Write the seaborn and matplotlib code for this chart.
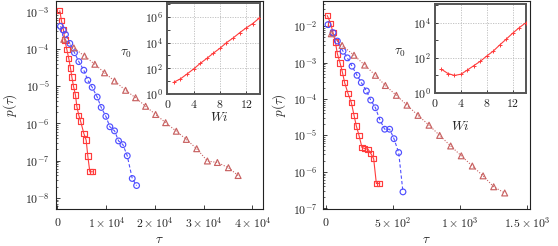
import numpy as np
import pandas as pd
import matplotlib
matplotlib.use("Agg")
import matplotlib.pyplot as plt
import matplotlib.ticker as mticker
import seaborn as sns

# ---------------- data ----------------
# Left panel: tau values and log10 p(tau)
L_red_tau = [480, 820, 1230, 1510, 1920, 2330, 2670, 2950, 3290, 3700, 3970, 4380, 4730, 5410, 5890, 6230, 6640, 7190]
L_red_logp = [-2.97, -3.24, -3.48, -3.76, -4.01, -4.26, -4.51, -4.75, -5.00, -5.24, -5.54, -5.78, -5.93, -6.27, -6.45, -6.88, -7.30, -7.30]
L_blue_tau = [616, 1164, 1644, 2534, 3493, 4384, 5411, 6233, 7123, 8151, 8973, 9932, 10753, 11712, 12534, 13425, 14315, 15342, 16233]
L_blue_logp = [-3.39, -3.49, -3.61, -3.85, -4.10, -4.34, -4.57, -4.84, -5.03, -5.29, -5.57, -5.81, -6.09, -6.20, -6.47, -6.57, -6.87, -7.48, -7.67]
L_brown_tau = [1301, 3356, 5548, 7671, 9658, 11712, 13973, 16027, 18082, 20137, 22192, 24384, 26438, 28562, 30753, 32808, 35068, 37055]
L_brown_logp = [-3.74, -3.97, -4.19, -4.41, -4.64, -4.86, -5.11, -5.31, -5.54, -5.76, -5.98, -6.21, -6.43, -6.68, -7.01, -7.05, -7.19, -7.40]

# Right panel
R_red_tau = [12, 37, 55, 72, 87, 107, 124, 141, 166, 191, 211, 228, 248, 270, 290, 315, 335, 357, 377, 402]
R_red_logp = [-1.71, -1.93, -2.18, -2.44, -2.76, -3.01, -3.26, -3.55, -3.85, -4.10, -4.45, -4.74, -5.00, -5.33, -5.36, -5.38, -5.49, -5.64, -6.32, -6.32]
R_blue_tau = [17, 55, 87, 129, 161, 196, 233, 265, 303, 335, 370, 404, 439, 476, 508, 543, 575]
R_blue_logp = [-1.96, -2.18, -2.41, -2.69, -2.87, -3.10, -3.35, -3.55, -3.78, -4.03, -4.24, -4.58, -4.83, -4.83, -5.09, -5.47, -6.55]
R_brown_tau = [42, 122, 211, 290, 370, 444, 526, 605, 687, 769, 848, 930, 1009, 1091, 1171, 1250, 1332]
R_brown_logp = [-2.21, -2.53, -2.80, -3.07, -3.35, -3.63, -3.90, -4.17, -4.45, -4.72, -5.00, -5.29, -5.56, -5.84, -6.11, -6.41, -6.58]

# Insets: tau0 vs Wi
Wi = [1, 2, 3, 4, 5, 6, 7, 8, 9, 10, 11, 12, 13, 14]
L_tau0_log = [0.92, 1.18, 1.56, 1.95, 2.38, 2.77, 3.18, 3.56, 4.00, 4.36, 4.77, 5.15, 5.49, 5.92]
R_tau0_log = [1.35, 1.11, 1.00, 1.07, 1.31, 1.56, 1.81, 2.11, 2.39, 2.74, 3.07, 3.41, 3.72, 4.00]

# tick labels
L_xticks = [0, 1e4, 2e4, 3e4, 4e4]
L_xticklabels = [r"$0$", r"$1\times10^{4}$", r"$2\times10^{4}$", r"$3\times10^{4}$", r"$4\times10^{4}$"]
L_yticks = [1e-8, 1e-7, 1e-6, 1e-5, 1e-4, 1e-3]
L_yticklabels = [r"$10^{-8}$", r"$10^{-7}$", r"$10^{-6}$", r"$10^{-5}$", r"$10^{-4}$", r"$10^{-3}$"]
R_xticks = [0, 5e2, 1e3, 1.5e3]
R_xticklabels = [r"$0$", r"$5\times10^{2}$", r"$1\times10^{3}$", r"$1.5\times10^{3}$"]
R_yticks = [1e-7, 1e-6, 1e-5, 1e-4, 1e-3, 1e-2]
R_yticklabels = [r"$10^{-7}$", r"$10^{-6}$", r"$10^{-5}$", r"$10^{-4}$", r"$10^{-3}$", r"$10^{-2}$"]
in_xticks = [0, 4, 8, 12]
in_xticklabels = [r"$0$", r"$4$", r"$8$", r"$12$"]
Lin_yticks = [1, 1e2, 1e4, 1e6]
Lin_yticklabels = [r"$10^{0}$", r"$10^{2}$", r"$10^{4}$", r"$10^{6}$"]
Rin_yticks = [1, 1e2, 1e4]
Rin_yticklabels = [r"$10^{0}$", r"$10^{2}$", r"$10^{4}$"]

# ---------------- style ----------------
sns.set_theme(style="ticks")
plt.rcParams.update({
    "font.family": ["DejaVu Serif"],
    "mathtext.fontset": "cm",
    "xtick.direction": "in",
    "ytick.direction": "in",
    "axes.linewidth": 0.8,
    "axes.edgecolor": "#222222",
})

RED = "#ff3c3c"
BLUE = "#4f4fff"
BROWN = "#c86262"

fig = plt.figure(figsize=(5.58, 2.46), dpi=100)
W, H = 558.0, 246.0

def fig_rect(x0, y0_top, x1, y1_top):
    return [x0 / W, (H - y1_top) / H, (x1 - x0) / W, (y1_top - y0_top) / H]

axL = fig.add_axes(fig_rect(55.5, 1, 262.7, 209))
axR = fig.add_axes(fig_rect(323, 1, 529.7, 209))
inL = fig.add_axes(fig_rect(167.3, 3.5, 260, 94))
inR = fig.add_axes(fig_rect(435, 4, 525.7, 93))


def series(ax, tau, logp, color, marker, ls, s):
    df = pd.DataFrame({"tau": tau, "p": np.power(10.0, logp)})
    sns.lineplot(data=df, x="tau", y="p", ax=ax, color=color,
                 linestyle=ls, linewidth=0.8, estimator=None, sort=False)
    sns.scatterplot(data=df, x="tau", y="p", ax=ax, color=color, marker=marker,
                    s=s, facecolors="none", edgecolors=color, linewidths=0.85,
                    zorder=3)


for ax in (axL, axR):
    ax.set_yscale("log")

series(axL, L_red_tau, L_red_logp, RED, "s", "-", 15)
series(axL, L_blue_tau, L_blue_logp, BLUE, "o", (0, (3, 2)), 17)
series(axL, L_brown_tau, L_brown_logp, BROWN, "^", (0, (1, 1.5)), 18)

series(axR, R_red_tau, R_red_logp, RED, "s", "-", 15)
series(axR, R_blue_tau, R_blue_logp, BLUE, "o", (0, (3, 2)), 17)
series(axR, R_brown_tau, R_brown_logp, BROWN, "^", (0, (1, 1.5)), 18)

axL.set_xlim(-400, 42100)
axL.set_ylim(10 ** -8.30, 10 ** -2.71)
axR.set_xlim(-20, 1518)
axR.set_ylim(10 ** -7.02, 10 ** -1.31)

for ax, xt, xtl, yt, ytl in ((axL, L_xticks, L_xticklabels, L_yticks, L_yticklabels),
                             (axR, R_xticks, R_xticklabels, R_yticks, R_yticklabels)):
    ax.xaxis.set_major_locator(mticker.FixedLocator(xt))
    ax.xaxis.set_major_formatter(mticker.FixedFormatter(xtl))
    ax.yaxis.set_major_locator(mticker.FixedLocator(yt))
    ax.yaxis.set_major_formatter(mticker.FixedFormatter(ytl))
    ax.yaxis.set_minor_locator(mticker.LogLocator(base=10, subs=np.arange(2, 10) * 1.0, numticks=20))
    ax.yaxis.set_minor_formatter(mticker.NullFormatter())
    ax.tick_params(axis="both", which="major", labelsize=8.5, length=3, width=0.6, pad=4, colors="#222222")
    ax.tick_params(axis="y", which="minor", length=1.5, width=0.5)
    ax.tick_params(axis="x", which="major", pad=5)
    ax.set_xlabel(r"$\tau$", fontsize=9.5)
    ax.set_ylabel(r"$p(\tau)$", fontsize=9.5)
    ax.xaxis.set_label_coords(0.5, -0.115)

axL.yaxis.set_label_coords(-0.175, 0.5)
axR.yaxis.set_label_coords(-0.17, 0.5)

# insets
for ax, logv, yt, ytl, ylim, xlim in ((inL, L_tau0_log, Lin_yticks, Lin_yticklabels, (1, 10 ** 7.05), (0, 14.1)),
                                      (inR, R_tau0_log, Rin_yticks, Rin_yticklabels, (1, 10 ** 5.07), (0, 14.0))):
    ax.set_yscale("log")
    df = pd.DataFrame({"Wi": Wi, "tau0": np.power(10.0, logv)})
    sns.lineplot(data=df, x="Wi", y="tau0", ax=ax, color=RED,
                 linewidth=0.8, estimator=None, sort=False)
    sns.scatterplot(data=df, x="Wi", y="tau0", ax=ax, color=RED, marker="+",
                    s=8, linewidths=0.7, zorder=3)
    ax.set_xlim(*xlim)
    ax.set_ylim(*ylim)
    ax.xaxis.set_major_locator(mticker.FixedLocator(in_xticks))
    ax.xaxis.set_major_formatter(mticker.FixedFormatter(in_xticklabels))
    ax.yaxis.set_major_locator(mticker.FixedLocator(yt))
    ax.yaxis.set_major_formatter(mticker.FixedFormatter(ytl))
    minors = [v * 10 for v in yt]
    ax.yaxis.set_minor_locator(mticker.FixedLocator(minors))
    ax.yaxis.set_minor_formatter(mticker.NullFormatter())
    ax.tick_params(axis="both", which="major", labelsize=8.5, length=2.5, width=0.6, pad=3, colors="#222222")
    ax.tick_params(axis="y", which="minor", length=2, width=0.6)
    ax.grid(True, which="major", color="#bbbbbb", linestyle=(0, (1.5, 1.5)), linewidth=0.6)
    for s in ax.spines.values():
        s.set_color("#555555")
        s.set_linewidth(1.4)
    ax.set_xlabel("")
    ax.set_ylabel("")
    ax.set_facecolor("white")

inL.text(-0.445, 0.45, r"$\tau_0$", transform=inL.transAxes, fontsize=9.5, ha="center", va="center")
inL.text(0.56, -0.26, r"$Wi$", transform=inL.transAxes, fontsize=9.5, ha="center", va="center")
inR.text(-0.386, 0.45, r"$\tau_0$", transform=inR.transAxes, fontsize=9.5, ha="center", va="center")
inR.text(0.276, -0.38, r"$Wi$", transform=inR.transAxes, fontsize=9.5, ha="center", va="center")

fig.savefig("out.png", dpi=100)
